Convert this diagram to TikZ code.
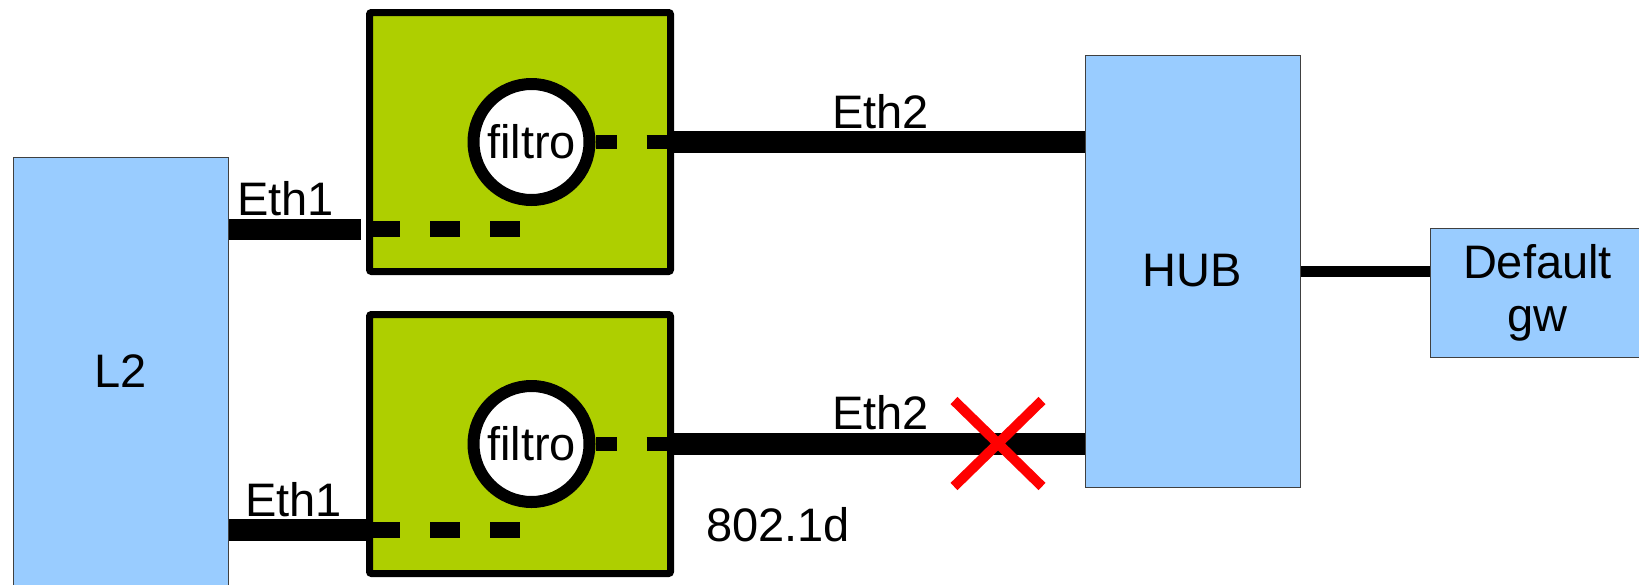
\documentclass[tikz,border=0pt]{standalone}
\usepackage{fontspec}
\setmainfont{Liberation Sans}
\usepackage{tikz}
\usetikzlibrary{shapes.misc}
\pgfdeclarelayer{bg}
\pgfsetlayers{bg,main}
\definecolor{netblue}{HTML}{99CCFF}
\definecolor{boxgreen}{HTML}{AECF00}
\tikzset{
    every node/.style={inner sep=0pt, font=\fontsize{47}{53}\selectfont}
}
\tikzset{
    netbox/.style={rectangle, draw=black!75, line width=1pt, fill=netblue, minimum width=215pt, align=center},
    filterbox/.style={rectangle, draw, line width=7pt, fill=boxgreen, rounded corners=2pt, minimum width=301pt, minimum height=259pt},
    filtro/.style={circle, draw, line width=12pt, fill=white, minimum size=116pt},
    wire/.style={line width=#1},
    port/.style={line width=#1, dash pattern=on 30pt off 30pt}
}

\begin{document}
\begin{tikzpicture}[x=1pt, y=-1pt]
        \useasboundingbox (0,0) rectangle (1639,584);
        \clip (0,0) rectangle (1639,584);
        \node (l2) [netbox, minimum height=429pt] at (120.5,371.5) {L2};
        \node (hub) [netbox, minimum height=432pt] at (1192.5,271) {HUB};
        \node (gw) [netbox, minimum height=129pt] at (1537.5,292.5) {Default\\gw};
        \node (fa) [filterbox] at (520,142) {};
        \node (fb) [filterbox] at (520,444) {};
        \node (ca) [filtro] at (531.5,142) {filtro};
        \node (cb) [filtro] at (531.5,444) {filtro};
        \coordinate (da) at (370,229);
        \coordinate (db) at (370,530);
        \node (e1a) [anchor=base west] at (237,215) {Eth1};
        \node (e1b) [anchor=base west] at (245,516) {Eth1};
        \node (e2a) [anchor=base west] at (832,128) {Eth2};
        \node (e2b) [anchor=base west] at (832,429) {Eth2};
        \node (stp) [anchor=base west] at (706,541) {802.1d};
        \draw [port=16pt] (da) -- ++(151,0);
        \draw [port=16pt] (db) -- ++(151,0);
        \draw [wire=14pt, dash pattern=on 21pt off 30pt on 40pt] (ca.east) -- (fa.east);
        \draw [wire=14pt, dash pattern=on 21pt off 30pt on 40pt] (cb.east) -- (fb.east);
        \begin{pgfonlayer}{bg}
                \draw [wire=21pt, shorten >=9pt] (l2.east |- da) -- (da);
                \draw [wire=22pt] (l2.east |- db) -- (db);
                \draw [wire=22pt] (fa.east) -- (fa.east -| hub.west);
                \draw [wire=22pt] (fb.east) -- (fb.east -| hub.west);
                \draw [wire=11pt] (hub.east) -- (hub.east -| gw.west);
        \end{pgfonlayer}
        \node (cut) [cross out, draw=red, line width=10pt, minimum width=78pt, minimum height=76pt] at (998,443.5) {};
\end{tikzpicture}
\end{document}
